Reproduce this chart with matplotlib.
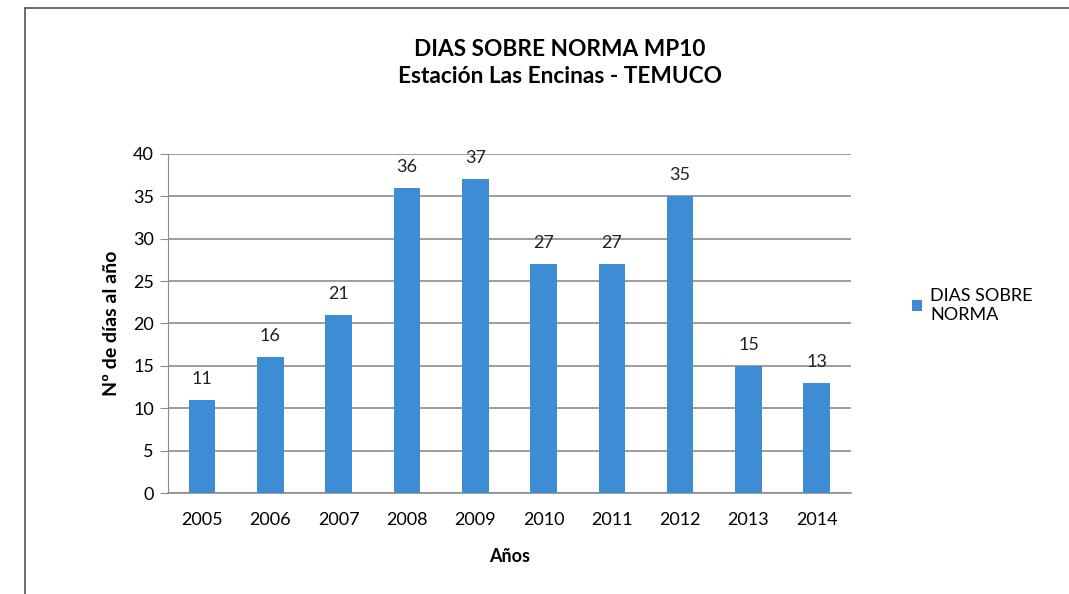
import matplotlib
matplotlib.use("Agg")
from matplotlib import pyplot as plt
from matplotlib.lines import Line2D

years = ["2005", "2006", "2007", "2008", "2009", "2010", "2011", "2012", "2013", "2014"]
dias = [11, 16, 21, 36, 37, 27, 27, 35, 15, 13]
serie = "DIAS SOBRE\nNORMA"

plt.rcParams['font.family'] = ['Lato', 'DejaVu Sans']

fig = plt.figure(figsize=(10.69, 5.94), dpi=100)
ax = fig.add_axes([0.157, 0.170, 0.639, 0.571])

x = range(len(years))
bars = ax.bar(x, dias, width=0.39, color="#3d8cd4", label=serie, zorder=3)
for xi, v in zip(x, dias):
    ax.annotate(str(v), (xi, v), xytext=(0, 11.5), textcoords="offset points",
                ha="center", va="baseline", fontsize=13, color="#222222")

ax.set_xlim(-0.5, len(years) - 0.5)
ax.set_ylim(0, 40)
ax.set_yticks(range(0, 41, 5))
ax.set_xticks(list(x))
ax.set_xticklabels(years)
ax.yaxis.grid(True, color="#8c8c8c", linewidth=1.2, zorder=0)
for s in ["top", "right"]:
    ax.spines[s].set_visible(False)
ax.spines["left"].set_color("#8c8c8c")
ax.spines["bottom"].set_color("#8c8c8c")
ax.spines["bottom"].set_linewidth(1.2)
ax.tick_params(axis="y", length=6, color="#8c8c8c", labelsize=13, pad=4)
ax.tick_params(axis="x", length=0, labelsize=13, pad=14)

ax.set_ylabel("Nº de días al año", fontsize=14, fontweight="bold", labelpad=9)
ax.set_xlabel("Años", fontsize=13, fontweight="bold", labelpad=14)

fig.text(0.524, 0.916, "DIAS SOBRE NORMA MP10", ha="center", va="center",
         fontsize=16.3, fontweight="bold")
fig.text(0.524, 0.871, "Estación Las Encinas - TEMUCO", ha="center", va="center",
         fontsize=16.3, fontweight="bold")

fig.legend(handles=[bars], labels=[serie], loc="upper left",
           bbox_to_anchor=(0.838, 0.542), frameon=False, fontsize=13,
           handlelength=0.55, handleheight=0.55, handletextpad=0.45,
           labelspacing=0.3)

# frame lines of the chart area
fig.add_artist(Line2D([25 / 1069, 1], [1 - 8 / 594, 1 - 8 / 594], color="#555555", linewidth=1.2))
fig.add_artist(Line2D([25 / 1069, 25 / 1069], [0, 1 - 8 / 594], color="#555555", linewidth=1.2))

plt.savefig("out.png", dpi=100)
